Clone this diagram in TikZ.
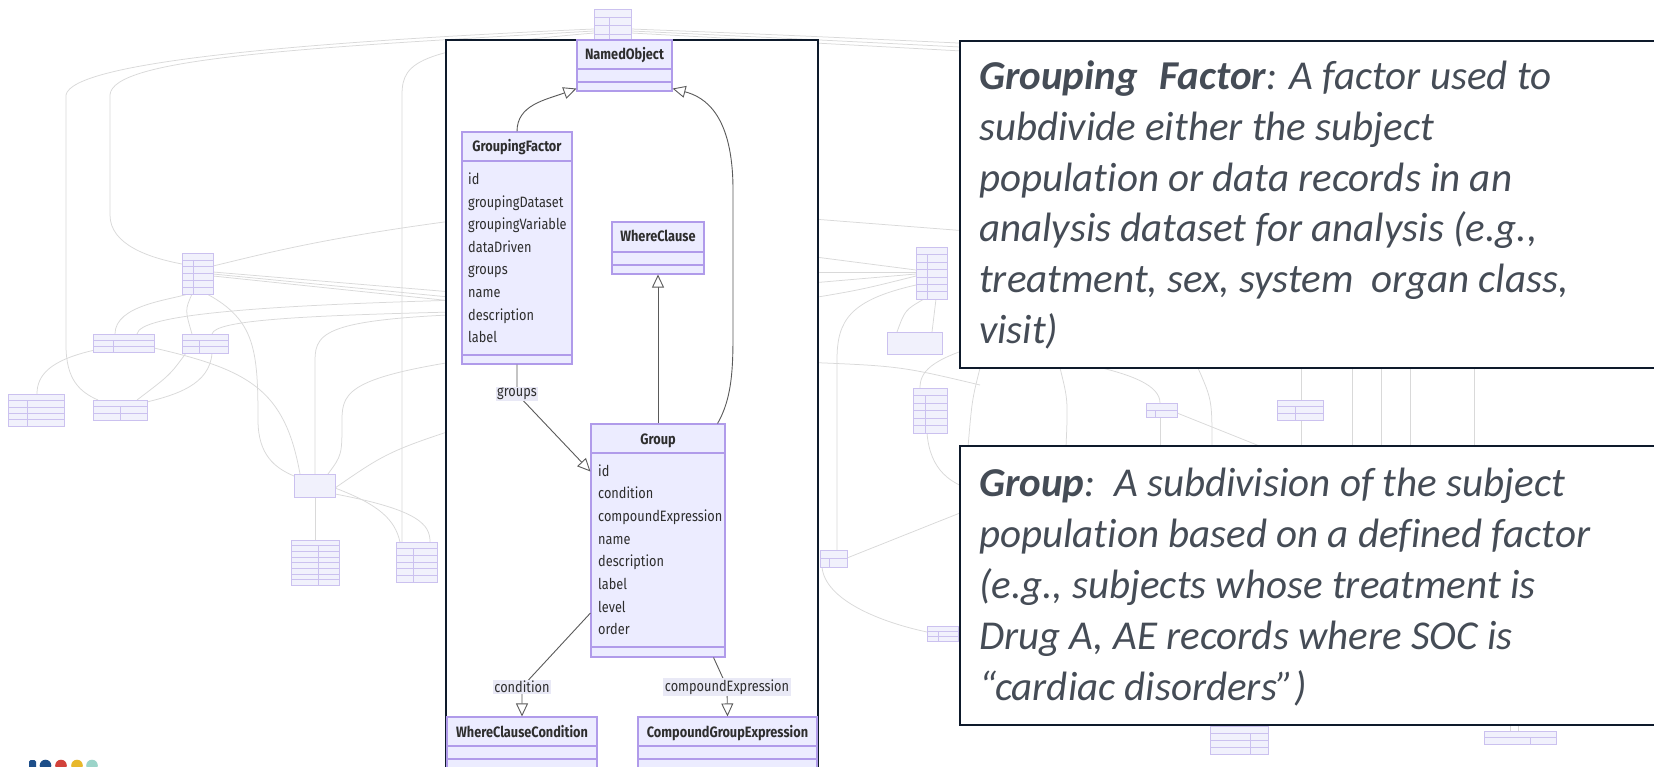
\documentclass[tikz,border=0pt]{standalone}
\usepackage{fontspec}
\usetikzlibrary{arrows.meta}
\setmainfont{Fira Sans}
\newfontfamily\umlfont[FakeStretch=0.85]{Fira Sans}
\newfontfamily\notefont[Ligatures=NoCommon]{Carlito}

\definecolor{umlfill}{HTML}{ECECFF}
\definecolor{umlborder}{HTML}{B09BEA}
\definecolor{umltext}{HTML}{2E2E2E}
\definecolor{edgecol}{HTML}{5A5A5A}
\definecolor{labelbg}{HTML}{E9E9F6}
\definecolor{framecol}{HTML}{0E1A2B}
\definecolor{notegrey}{HTML}{454C56}
\definecolor{bgboxfill}{HTML}{F1F1FC}
\definecolor{bgboxborder}{HTML}{CBC1EF}
\definecolor{bgline}{HTML}{D9D9D9}
\definecolor{logoblue}{HTML}{1D4E89}
\definecolor{logored}{HTML}{D2423B}
\definecolor{logoyellow}{HTML}{E8B82B}
\definecolor{logoteal}{HTML}{9BD4C9}

\tikzset{
  classbox/.style={draw=umlborder, fill=umlfill, line width=1.1pt, inner sep=0pt},
  sepline/.style={draw=umlborder, line width=1.1pt},
  classtitle/.style={font=\umlfont\bfseries\fontsize{15}{17}\selectfont, text=umltext, inner sep=0pt, anchor=base},
  attr/.style={font=\umlfont\fontsize{15}{17}\selectfont, text=umltext, inner sep=0pt, anchor=base west},
  edge/.style={draw=edgecol, line width=0.9pt},
  inherit/.style={edge, -{Triangle[fill=white, length=13pt, width=12pt]}},
  edgelabel/.style={font=\umlfont\fontsize{15}{17}\selectfont, text=umltext, fill=labelbg, inner xsep=1.5pt, inner ysep=1.5pt},
  notetext/.style={font=\notefont\itshape\fontsize{41}{51}\selectfont, text=notegrey, anchor=base west, inner sep=0pt},
  notebox/.style={draw=framecol, fill=white, line width=2.6pt},
  bgbox/.style={draw=bgboxborder, fill=bgboxfill, line width=0.6pt},
  bgrow/.style={draw=bgboxborder, line width=0.4pt},
  bgcurve/.style={draw=bgline, line width=0.75pt},
}

% faint table: x1, y1, x2, y2, number of row lines, divider x
\newcommand\bgtable[6]{%
  \draw[bgbox] (#1,#2) rectangle (#3,#4);
  \foreach \k in {1,...,#5}{\draw[bgrow] (#1,{#2+(#4-#2)*\k/(#5+1)}) -- (#3,{#2+(#4-#2)*\k/(#5+1)});}
  \draw[bgrow] (#6,{#2+(#4-#2)/(#5+1)}) -- (#6,#4);
}

\begin{document}
\begin{tikzpicture}[x=1pt,y=-1pt]
\useasboundingbox (0,0) rectangle (1654,767);
\clip (0,0) rectangle (1654,767);
\fill[white] (0,0) rectangle (1654,767);

% ---------- faint overall model in the background ----------
% links on the left
\draw[bgcurve] (594,29) .. controls (300,42) and (72,62) .. (66,95) -- (66,345) .. controls (66,380) and (80,392) .. (98,400);
\draw[bgcurve] (594,31) .. controls (300,48) and (112,58) .. (110,95) -- (110,215) .. controls (110,245) and (150,258) .. (182,264);
\draw[bgcurve] (594,33) .. controls (420,48) and (402,60) .. (402,95) -- (402,542);
\draw[bgcurve] (500,215) .. controls (330,235) and (260,255) .. (213,266);
\draw[bgcurve] (500,296) -- (213,272);
\draw[bgcurve] (500,302) -- (213,274);
\draw[bgcurve] (500,306) -- (213,276);
\draw[bgcurve] (188,294) .. controls (170,300) and (115,305) .. (115,334);
\draw[bgcurve] (192,294) .. controls (185,310) .. (192,334);
\draw[bgcurve] (207,294) .. controls (255,320) and (258,350) .. (258,420) .. controls (258,455) and (275,468) .. (294,476);
\draw[bgcurve] (500,299) .. controls (250,305) and (140,315) .. (137,334);
\draw[bgcurve] (500,311) .. controls (300,315) and (215,320) .. (212,334);
\draw[bgcurve] (500,313) .. controls (330,318) and (315,330) .. (315,360) -- (315,474);
\draw[bgcurve] (500,355) .. controls (350,375) and (342,390) .. (342,420) .. controls (342,455) .. (328,474);
\draw[bgcurve] (500,415) .. controls (390,450) .. (335,488);
\draw[bgcurve] (154,348) .. controls (250,370) and (285,390) .. (300,474);
\draw[bgcurve] (95,350) .. controls (50,360) and (37,375) .. (37,394);
\draw[bgcurve] (186,353) .. controls (170,375) .. (137,400);
\draw[bgcurve] (212,353) .. controls (210,385) and (175,395) .. (147,402);
\draw[bgcurve] (315,497) -- (315,540);
\draw[bgcurve] (335,494) .. controls (420,510) and (430,525) .. (430,542);
\draw[bgcurve] (335,488) .. controls (380,505) and (395,520) .. (400,542);
% links on the right
\draw[bgcurve] (631,29) .. controls (760,34) .. (980,44);
\draw[bgcurve] (631,31) .. controls (760,37) .. (980,48);
\draw[bgcurve] (631,33) .. controls (760,40) .. (980,52);
\draw[bgcurve] (800,218) -- (980,232);
\draw[bgcurve] (800,255) -- (916,270);
\draw[bgcurve] (800,272) -- (916,272);
\draw[bgcurve] (800,284) -- (916,274);
\draw[bgcurve] (800,300) .. controls (860,290) .. (916,276);
\draw[bgcurve] (924,299) .. controls (905,310) .. (897,332);
\draw[bgcurve] (936,299) -- (932,332);
\draw[bgcurve] (800,362) .. controls (900,366) .. (980,385);
\draw[bgcurve] (980,345) .. controls (930,360) and (920,372) .. (920,388);
\draw[bgcurve] (916,285) .. controls (850,300) and (837,320) .. (837,360) -- (837,550);
\draw[bgcurve] (822,567) .. controls (825,600) and (880,622) .. (927,632);
\draw[bgcurve] (847,558) -- (980,505);
\draw[bgcurve] (927,433) .. controls (930,470) and (950,485) .. (980,492);
\draw[bgcurve] (980,368) .. controls (972,400) .. (968,447);
\draw[bgcurve] (1060,368) .. controls (1068,400) .. (1066,447);
\draw[bgcurve] (1102,368) .. controls (1130,375) and (1160,385) .. (1160,403);
\draw[bgcurve] (1160,417) -- (1160,447);
\draw[bgcurve] (1198,368) .. controls (1212,400) .. (1212,447);
\draw[bgcurve] (1177,413) -- (1262,447);
\draw[bgcurve] (1301,368) -- (1301,400);
\draw[bgcurve] (1301,420) -- (1301,447);
\foreach \vx in {1352,1381,1410,1474} \draw[bgcurve] (\vx,368) -- (\vx,447);
\draw[bgcurve] (1510,725) -- (1510,733);
\draw[bgcurve] (1518,725) -- (1518,733);
% faint tables
\bgtable{594}{9}{631}{42}{3}{609}
\bgtable{182}{253}{213}{294}{5}{193}
\bgtable{93}{334}{154}{352}{2}{113}
\bgtable{182}{334}{228}{353}{2}{199}
\bgtable{8}{394}{64}{426}{4}{27}
\bgtable{93}{400}{147}{420}{2}{120}
\draw[bgbox] (294,474) rectangle (335,497);
\bgtable{291}{540}{339}{585}{7}{318}
\bgtable{396}{542}{437}{582}{5}{413}
\bgtable{916}{247}{947}{299}{6}{927}
\draw[bgbox] (887,332) rectangle (942,354);
\bgtable{913}{388}{947}{433}{5}{925}
\bgtable{820}{550}{847}{567}{1}{829}
\bgtable{927}{626}{958}{641}{2}{938}
\bgtable{1146}{403}{1177}{417}{1}{1155}
\bgtable{1277}{400}{1323}{420}{2}{1295}
\bgtable{1210}{726}{1268}{754}{3}{1250}
\bgtable{1484}{731}{1556}{744}{1}{1530}

% logo dots, cut by the lower edge
\fill[logoblue, rounded corners=1.5pt] (29,760) rectangle (36,770);
\fill[logoblue] (45.5,765.5) circle (5.8pt);
\fill[logored] (61,765.5) circle (5.8pt);
\fill[logoyellow] (77,765.5) circle (5.8pt);
\fill[logoteal] (92,765.5) circle (5.8pt);

% ---------- framed class diagram ----------
\draw[framecol, fill=white, line width=2.6pt] (446,40) rectangle (818,820);

% NamedObject
\node[classbox, minimum width=95pt, minimum height=51pt] (named) at (624.5,65.5) {};
\draw[sepline] (577,69) -- (672,69);
\draw[sepline] (577,82) -- (672,82);
\node[classtitle] (namedt) at (624.5,60) {NamedObject};

% GroupingFactor
\node[classbox, minimum width=110pt, minimum height=232pt] (gf) at (517,248) {};
\draw[sepline] (462,161) -- (572,161);
\draw[sepline] (462,355) -- (572,355);
\node[classtitle] (gft) at (517,152) {GroupingFactor};
\foreach \a [count=\i from 0] in {id,groupingDataset,groupingVariable,dataDriven,groups,name,description,label}
  \node[attr] (gfa\i) at (468,{184.5+22.6*\i}) {\a};

% WhereClause
\node[classbox, minimum width=92pt, minimum height=52pt] (wc) at (658,248) {};
\draw[sepline] (612,252) -- (704,252);
\draw[sepline] (612,265) -- (704,265);
\node[classtitle] (wct) at (658,242) {WhereClause};

% Group
\node[classbox, minimum width=134pt, minimum height=233pt] (group) at (658,540.5) {};
\draw[sepline] (591,453) -- (725,453);
\draw[sepline] (591,647) -- (725,647);
\node[classtitle] (groupt) at (658,444) {Group};
\foreach \a [count=\i from 0] in {id,condition,compoundExpression,name,description,label,level,order}
  \node[attr] (ga\i) at (598,{476+22.7*\i}) {\a};

% WhereClauseCondition
\node[classbox, minimum width=150pt, minimum height=83pt] (wcc) at (522,758.5) {};
\draw[sepline] (447,746) -- (597,746);
\draw[sepline] (447,759) -- (597,759);
\node[classtitle] (wcct) at (522,737) {WhereClauseCondition};

% CompoundGroupExpression
\node[classbox, minimum width=179pt, minimum height=83pt] (cge) at (727.5,758.5) {};
\draw[sepline] (638,746) -- (817,746);
\draw[sepline] (638,759) -- (817,759);
\node[classtitle] (cget) at (727.5,737) {CompoundGroupExpression};

% connectors
\coordinate (pgroups) at (517,394);
\coordinate (pcond) at (522,687);
\coordinate (pcge) at (727,687);
\draw[inherit] (gf.north) .. controls (517,105) and (545,100) .. ([yshift=3pt]named.south west);
\draw[inherit] ([xshift=-8pt]group.north east) .. controls (734,395) and (733,360) .. (733,320) -- (733,190) .. controls (733,115) and (705,97) .. ([yshift=3pt]named.south east);
\draw[inherit] (group.north) -- (wc.south);
\draw[inherit] (gf.south) .. controls (517,382) and (517,390) .. (pgroups) -- ([yshift=69pt]group.west);
\draw[inherit] ([yshift=-72.5pt]group.west) -- (pcond) -- (wcc.north);
\draw[inherit] ([xshift=-12pt]group.south east) -- (pcge) -- (cge.north);
\node[edgelabel] (lblgroups) at (pgroups) {groups};
\node[edgelabel] (lblcond) at (pcond) {condition};
\node[edgelabel] (lblcge) at (pcge) {compoundExpression};

% ---------- definitions ----------
\draw[notebox] (960,41) rectangle (1680,368);
\node[notetext] (gfn1) at (979,90) {\textbf{Grouping\hspace{0.3em} Factor}: A factor used to};
\node[notetext] (gfn2) at (979,140.6) {subdivide either the subject};
\node[notetext] (gfn3) at (979,191.2) {population or data records in an};
\node[notetext] (gfn4) at (979,241.8) {analysis dataset for analysis (e.g.,};
\node[notetext] (gfn5) at (979,292.4) {treatment, sex, system\hspace{0.2em} organ class,};
\node[notetext] (gfn6) at (979,343) {visit)};

\draw[notebox] (960,446) rectangle (1680,725);
\node[notetext] (gn1) at (979,496) {\textbf{Group}:\hspace{0.15em} A subdivision of the subject};
\node[notetext] (gn2) at (979,547) {population based on a defined factor};
\node[notetext] (gn3) at (979,598) {(e.g., subjects whose treatment is};
\node[notetext] (gn4) at (979,649) {Drug A, AE records where SOC is};
\node[notetext] (gn5) at (979,700) {“cardiac disorders”)};
\end{tikzpicture}
\end{document}
